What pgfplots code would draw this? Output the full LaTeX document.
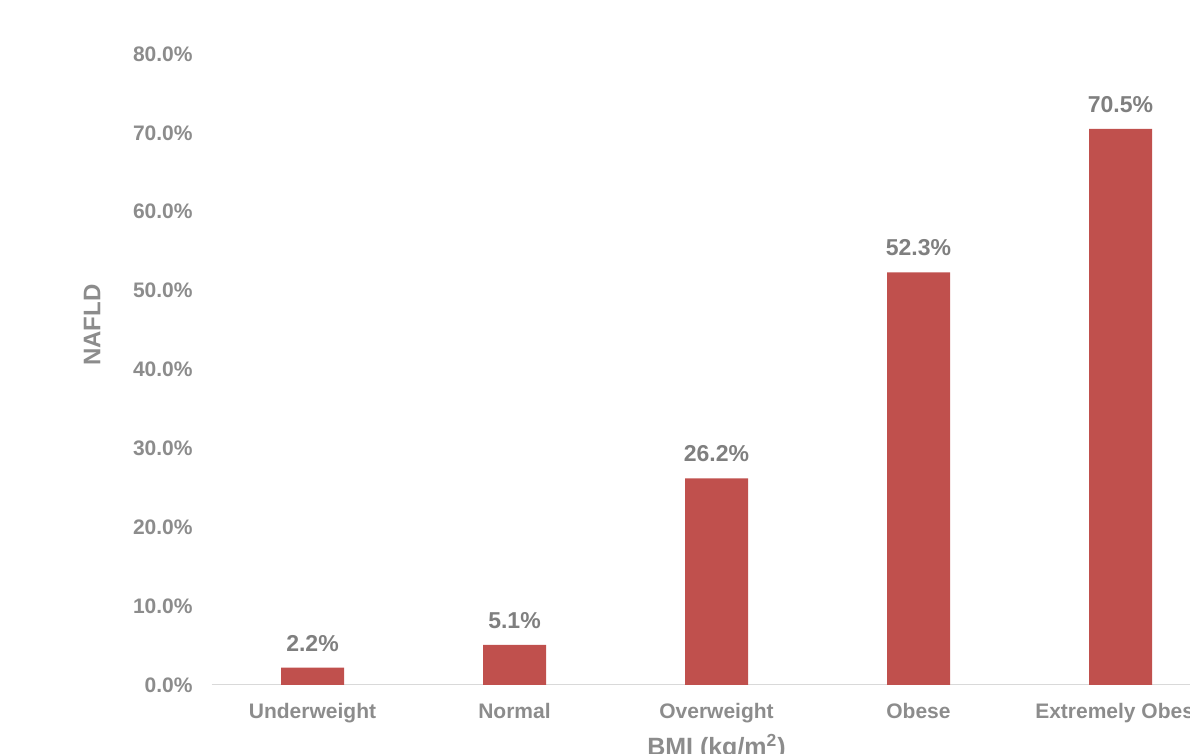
\documentclass[border=0pt]{standalone}
\usepackage{pgfplots}
\pgfplotsset{compat=1.18}
\usepackage{fontspec}
\setmainfont{Liberation Sans}
\definecolor{barred}{HTML}{C0504D}
\definecolor{tickgray}{HTML}{8C8C8C}
\definecolor{labgray}{HTML}{7F7F7F}
\definecolor{axgray}{HTML}{D9D9D9}
\begin{document}
\begin{tikzpicture}
\path[use as bounding box] (0,0) rectangle (595pt,377pt);
\clip (0,0) rectangle (595pt,377pt);
\begin{axis}[
  at={(105.75pt,34.5pt)}, anchor=south west,
  scale only axis, width=505pt, height=315.5pt,
  xmin=-0.5, xmax=4.5, ymin=0, ymax=80,
  axis line style={draw=none},
  xtick=data,
  xticklabels={Underweight,Normal,Overweight,Obese,Extremely Obese},
  ytick={0,10,...,80},
  major tick length=0pt,
  tick style={draw=none},
  /pgf/number format/assume math mode=true,
  yticklabel={\pgfmathprintnumber[fixed,fixed zerofill,precision=1]{\tick}\%},
  yticklabel style={font=\fontsize{10.5}{12}\selectfont\bfseries, text=tickgray, anchor=east, inner sep=0pt, xshift=-9.25pt},
  xticklabel style={font=\fontsize{10.5}{12}\selectfont\bfseries, text=tickgray, anchor=base, inner sep=0pt, yshift=-16.75pt},
  ylabel={NAFLD},
  ylabel style={font=\fontsize{12}{14}\selectfont\bfseries, text=tickgray, at={(axis description cs:-0.1183,0.57)}, anchor=center},
  xlabel={BMI (kg/m\textsuperscript{2})},
  xlabel style={font=\fontsize{12.5}{14}\selectfont\bfseries, text=tickgray, at={(axis description cs:0.5,-0.111)}, anchor=base},
  nodes near coords={\pgfmathprintnumber[fixed,fixed zerofill,precision=1]{\pgfplotspointmeta}\%},
  every node near coord/.append style={font=\fontsize{11.5}{13}\selectfont\bfseries, text=labgray, anchor=base, inner sep=0pt, yshift=8.25pt},
]
\draw[color=axgray, line width=0.75pt] (axis cs:-0.5,0) -- (axis cs:4.5,0);
\addplot[ybar, bar width=31.5pt, fill=barred, draw=none] coordinates {
  (0,2.2) (1,5.1) (2,26.2) (3,52.3) (4,70.5)
};
\end{axis}
\end{tikzpicture}
\end{document}
